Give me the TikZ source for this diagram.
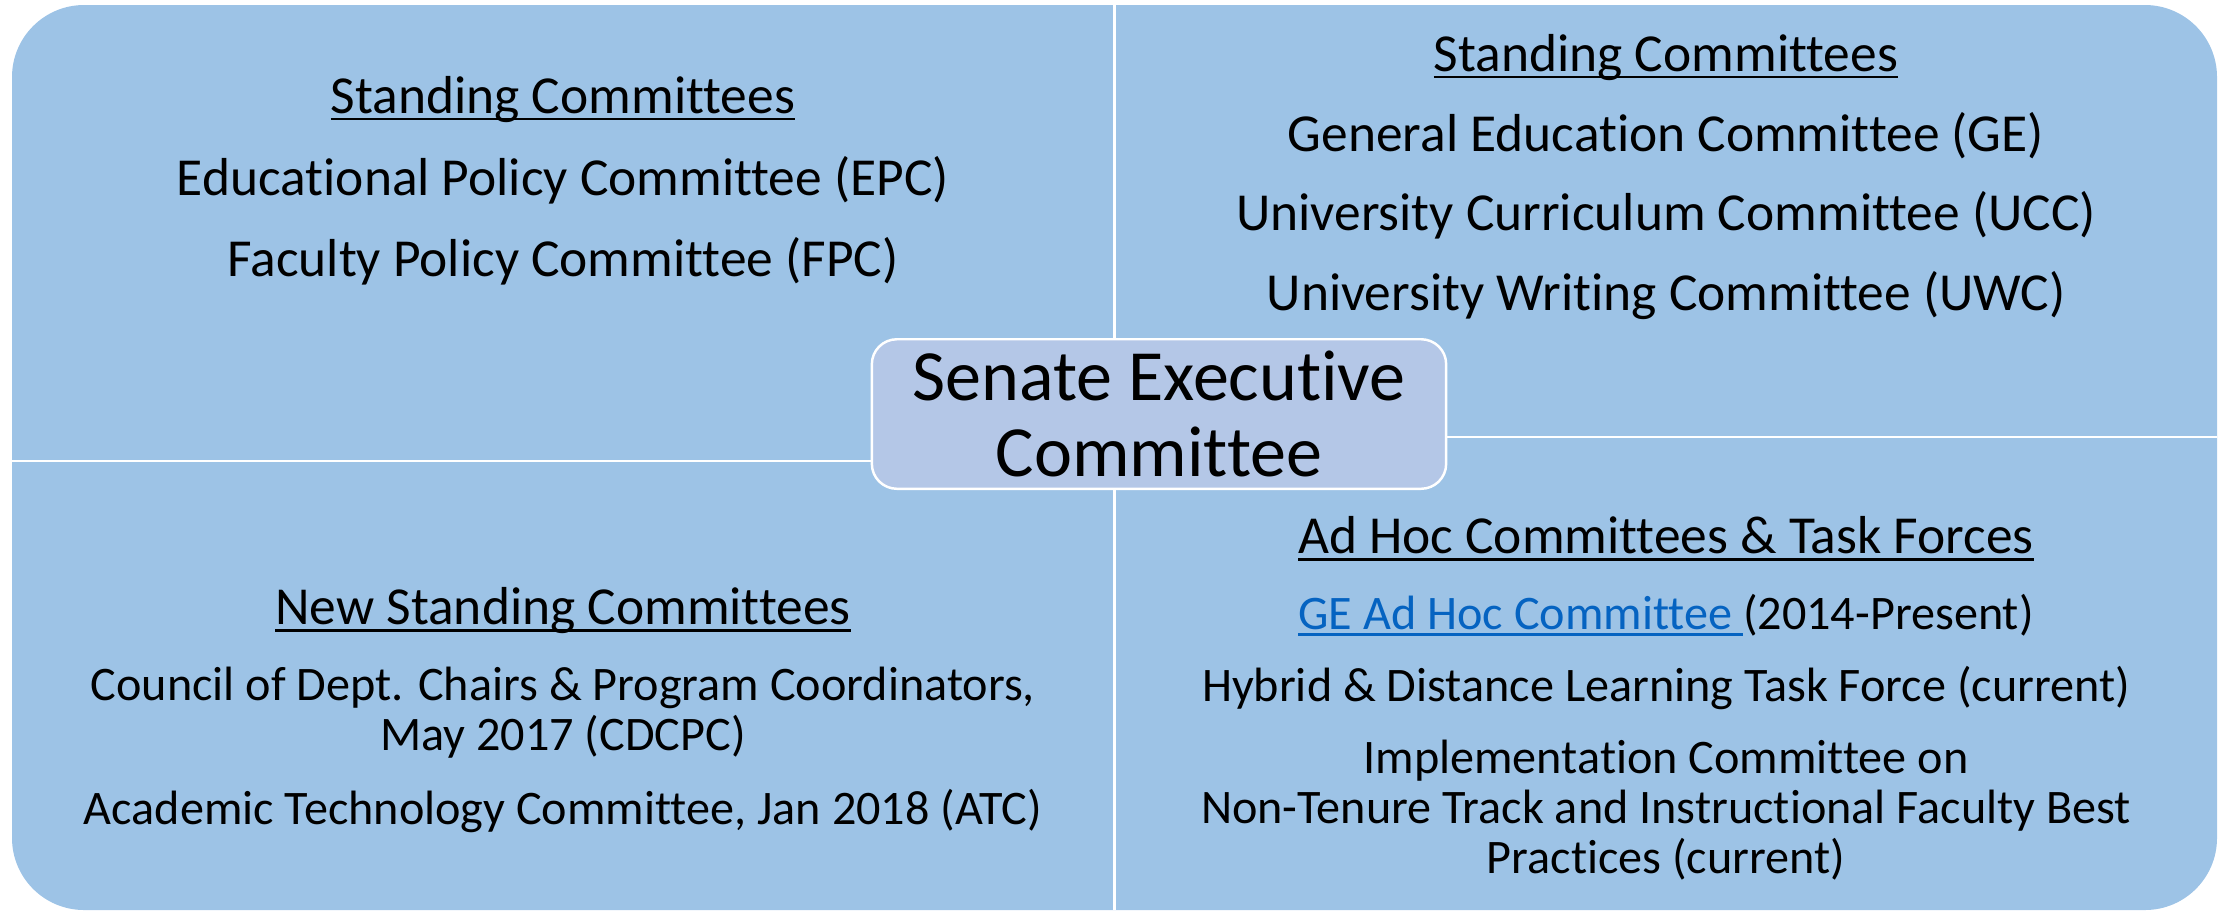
\documentclass[tikz,border=0pt]{standalone}
\usepackage{fontspec}
\setmainfont{Carlito}[Ligatures=NoCommon]
\definecolor{panelblue}{HTML}{9DC3E6}
\definecolor{hubblue}{HTML}{B4C7E7}
\definecolor{linkblue}{HTML}{0563C1}
\newcommand{\ulined}[1]{\setbox0=\hbox{#1}\rlap{\rule[-0.14em]{\wd0}{0.055em}}\box0}
\newcommand{\panelentry}[3] {\node at (#1) (#2) [entry] {#3};}
\newcommand{\smallentry}[3] {\node at (#1) (#2) [entry, font=\fontsize{13.7}{14.2}\selectfont] {#3};}
\newcommand{\paneltitle}[3] {\node at (#1) (#2) [entry] {\ulined{#3}};}

\begin{document}
\begin{tikzpicture}[x=0.01cm, y=-0.01cm,
  entry/.style={anchor=base, align=center, inner sep=0pt, font=\fontsize{15.2}{14.2}\selectfont},
  hub/.style={rectangle, rounded corners=0.25cm, fill=hubblue, draw=white, line width=0.7pt,
    minimum width=5.74cm, minimum height=1.38cm, align=center, font=\fontsize{20.5}{21.6}\selectfont},
  divider/.style={white, line width=0.7pt}]

\useasboundingbox (0,0) rectangle (2224,911);

% background with the four quarters
\fill [panelblue, rounded corners=0.72cm] (12,5) rectangle (2217,910);
\draw [divider] (1114.5,5) -- (1114.5,910);
\draw [divider] (12,461) -- (1114.5,461);
\draw [divider] (1114.5,437) -- (2217,437);

\node at (1159,414) (sec) [hub] {Senate Executive\\Committee};

% top left
\paneltitle {563,113}{tl-title}{Standing Committees};
\panelentry {563,195}{epc}{Educational Policy Committee (EPC)};
\panelentry {563,276}{fpc}{Faculty Policy Committee (FPC)};

% top right
\paneltitle {1666,71}{tr-title}{Standing Committees};
\panelentry {1666,151}{ge}{General Education Committee (GE)};
\panelentry {1666,230}{ucc}{University Curriculum Committee (UCC)};
\panelentry {1666,310}{uwc}{University Writing Committee (UWC)};

% bottom left (multi-line entries sit on their last line)
\paneltitle {563,624}{bl-title}{New Standing Committees};
\smallentry {563,750}{cdcpc}{Council of Dept. Chairs \& Program Coordinators,\\May 2017 (CDCPC)};
\smallentry {563,824}{atc}{Academic Technology Committee, Jan 2018 (ATC)};

% bottom right
\paneltitle {1666,553}{br-title}{Ad Hoc Committees \& Task Forces};
\smallentry {1666,629}{gead}{\textcolor{linkblue}{\ulined{GE Ad Hoc Committee }}(2014-Present)};
\smallentry {1666,701}{hdl}{Hybrid \& Distance Learning Task Force (current)};
\smallentry {1666,873}{ntt}{Implementation Committee on\\Non-Tenure Track and Instructional Faculty Best\\Practices (current)};

\end{tikzpicture}
\end{document}
